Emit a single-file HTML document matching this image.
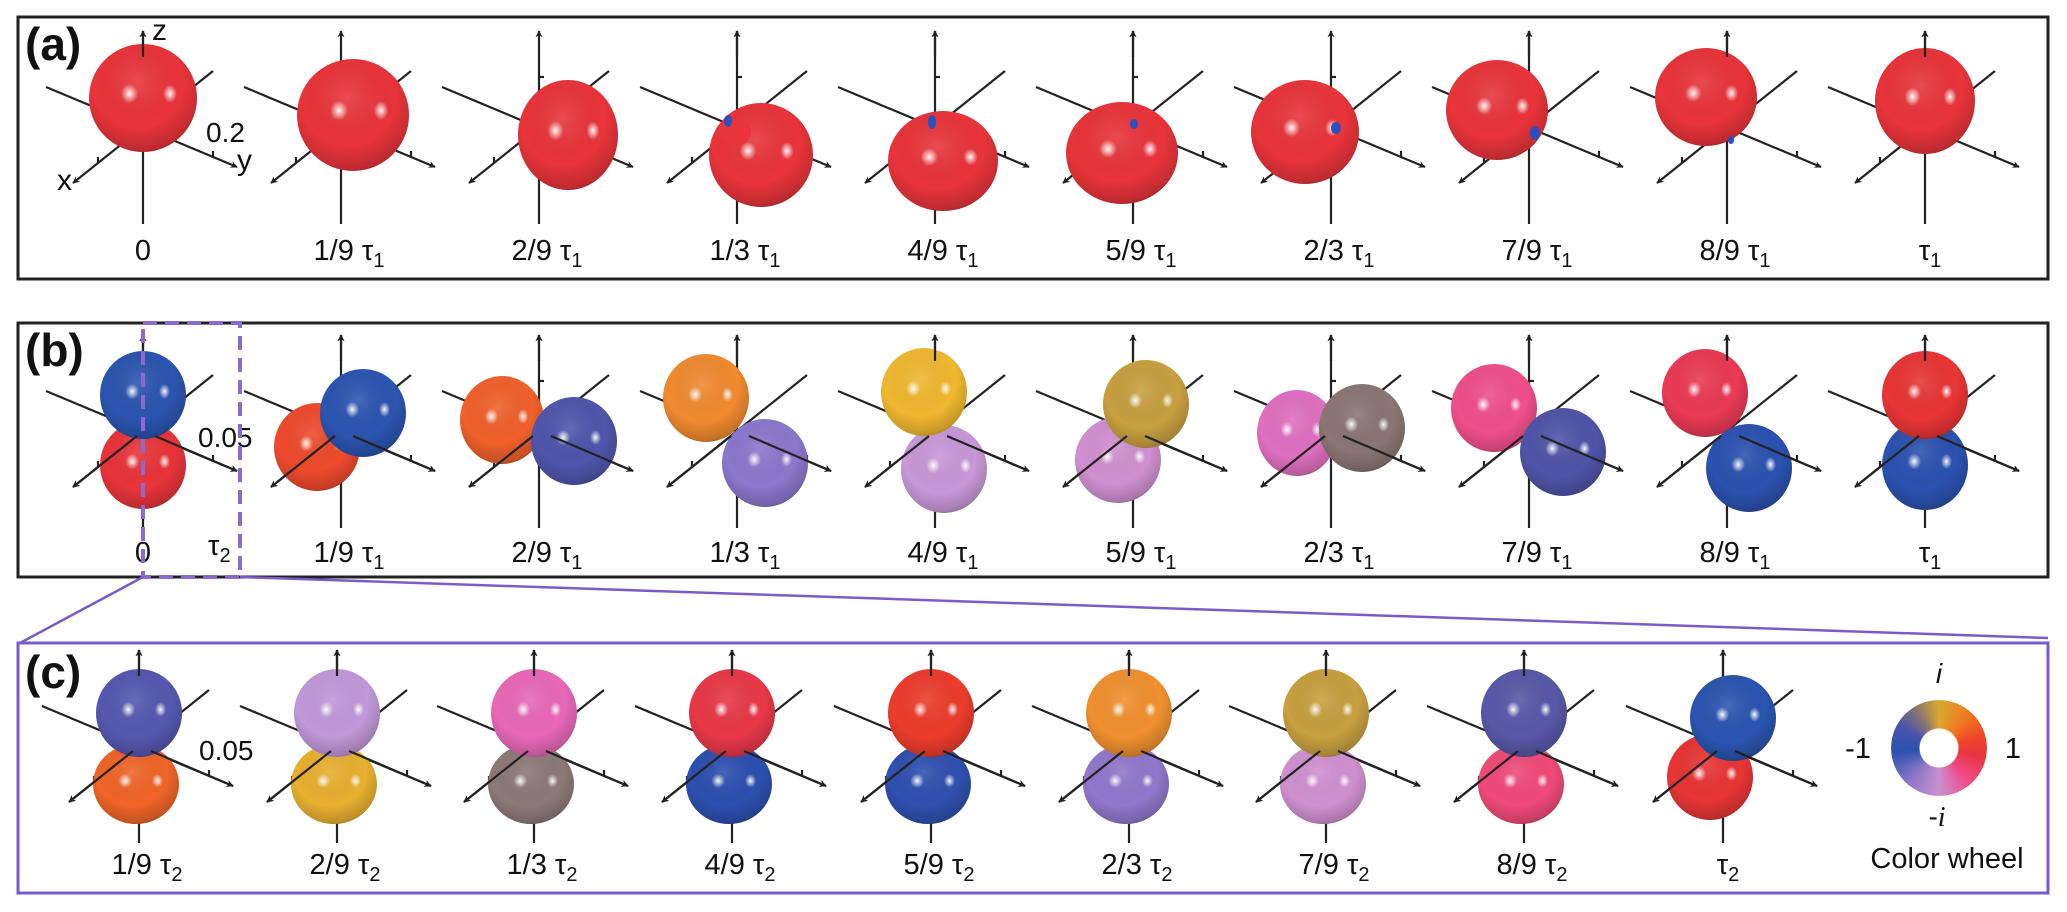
<!DOCTYPE html>
<html><head><meta charset="utf-8"><style>
html,body{margin:0;padding:0;background:#fff}
svg{display:block}
text{font-family:"Liberation Sans",sans-serif;fill:#111}
.lb{font-size:29px;text-anchor:middle}
.pl{font-size:46px;font-weight:bold}
</style></head><body>
<div style="position:relative;width:2067px;height:912px;overflow:hidden">
<svg width="2067" height="912" viewBox="0 0 2067 912" xmlns="http://www.w3.org/2000/svg">
<defs>
<marker id="ar" viewBox="0 0 10 10" refX="9" refY="5" markerWidth="7" markerHeight="7" orient="auto" markerUnits="userSpaceOnUse">
<path d="M0,0 L10,5 L0,10 L3,5 z" fill="#222"/></marker>
<radialGradient id="shade" cx="0.45" cy="0.35" r="0.7">
<stop offset="0" stop-color="#fff" stop-opacity="0.12"/>
<stop offset="0.6" stop-color="#000" stop-opacity="0"/>
<stop offset="0.9" stop-color="#000" stop-opacity="0.18"/>
<stop offset="1" stop-color="#000" stop-opacity="0.4"/>
</radialGradient>
<radialGradient id="hl"><stop offset="0" stop-color="#fff" stop-opacity="0.95"/><stop offset="1" stop-color="#fff" stop-opacity="0"/></radialGradient>
<g id="S"><circle r="1"/><circle r="1" fill="url(#shade)"/>
<ellipse cx="-0.25" cy="-0.08" rx="0.16" ry="0.18" fill="url(#hl)"/>
<ellipse cx="0.5" cy="-0.08" rx="0.13" ry="0.17" fill="url(#hl)"/></g>
<g id="ax" stroke="#222" stroke-width="2.2" fill="none">
<line x1="-97" y1="-40" x2="94" y2="40" marker-end="url(#ar)"/>
<line x1="70" y1="-56" x2="-70" y2="56" marker-end="url(#ar)"/>
<line x1="0" y1="97" x2="0" y2="-96" marker-end="url(#ar)"/>
<line x1="70" y1="30" x2="70" y2="24"/>
<line x1="-45" y1="36" x2="-45" y2="30"/>
<line x1="0" y1="-50" x2="5" y2="-50"/>
</g>
<g id="fr" stroke="#222" stroke-width="2.2" fill="none">
<line x1="12" y1="5" x2="94" y2="40" marker-end="url(#ar)"/>
<line x1="-6" y1="5" x2="-70" y2="56" marker-end="url(#ar)"/>
<line x1="0" y1="-70" x2="0" y2="-96" marker-end="url(#ar)"/>
</g>
<g id="zt" stroke="#222" stroke-width="2.2"><line x1="0" y1="-70" x2="0" y2="-96" marker-end="url(#ar)"/></g>
</defs>

<rect x="18" y="17" width="2030" height="262" fill="none" stroke="#222" stroke-width="3"/>
<rect x="18" y="323" width="2030" height="254" fill="none" stroke="#222" stroke-width="3"/>
<rect x="18" y="643" width="2030" height="250" fill="none" stroke="#7a5cc8" stroke-width="3"/>

<!-- Panel a -->
<use href="#ax" transform="translate(143,127)"/><use href="#ax" transform="translate(341,127)"/>
<use href="#ax" transform="translate(539,127)"/><use href="#ax" transform="translate(737,127)"/>
<use href="#ax" transform="translate(935,127)"/><use href="#ax" transform="translate(1133,127)"/>
<use href="#ax" transform="translate(1331,127)"/><use href="#ax" transform="translate(1529,127)"/>
<use href="#ax" transform="translate(1727,127)"/><use href="#ax" transform="translate(1925,127)"/>
<g fill="#e8343a">
<use href="#S" transform="translate(143,98) scale(54,54)"/>
<use href="#S" transform="translate(353,115) scale(56,56)"/>
<use href="#S" transform="translate(568,135) scale(50,55)"/>
<use href="#S" transform="translate(761,155) scale(52,52)"/>
<ellipse cx="735" cy="132" rx="16" ry="14"/>
<use href="#S" transform="translate(943,161) scale(55,50)"/>
<use href="#S" transform="translate(1122,153) scale(56,51)"/>
<use href="#S" transform="translate(1305,132) scale(54,52)"/>
<use href="#S" transform="translate(1497,110) scale(51,50)"/>
<use href="#S" transform="translate(1706,97) scale(51,49)"/>
<use href="#S" transform="translate(1925,101) scale(50,53)"/>
</g>
<g fill="#2a50c0">
<ellipse cx="728" cy="121" rx="4" ry="6"/><ellipse cx="932" cy="122" rx="4" ry="7"/>
<ellipse cx="1134" cy="124" rx="4" ry="5"/><ellipse cx="1336" cy="128" rx="5" ry="6"/>
<ellipse cx="1535" cy="133" rx="5" ry="7"/><ellipse cx="1731" cy="140" rx="3" ry="4"/>
</g>
<use href="#zt" transform="translate(143,127)"/><use href="#zt" transform="translate(737,127)"/>
<use href="#zt" transform="translate(935,127)"/><use href="#zt" transform="translate(1133,127)"/>
<use href="#zt" transform="translate(1529,127)"/><use href="#zt" transform="translate(1727,127)"/>
<use href="#zt" transform="translate(1925,127)"/>
<text class="pl" x="25" y="60">(a)</text>
<text x="152" y="40" font-size="30">z</text>
<text x="57" y="190" font-size="30">x</text>
<text x="237" y="170" font-size="30">y</text>
<text x="206" y="142" font-size="28">0.2</text>
<g class="lb">
<text x="143" y="260">0</text>
<text x="349" y="260">1/9 τ<tspan font-size="20" dy="7">1</tspan></text>
<text x="547" y="260">2/9 τ<tspan font-size="20" dy="7">1</tspan></text>
<text x="745" y="260">1/3 τ<tspan font-size="20" dy="7">1</tspan></text>
<text x="943" y="260">4/9 τ<tspan font-size="20" dy="7">1</tspan></text>
<text x="1141" y="260">5/9 τ<tspan font-size="20" dy="7">1</tspan></text>
<text x="1339" y="260">2/3 τ<tspan font-size="20" dy="7">1</tspan></text>
<text x="1537" y="260">7/9 τ<tspan font-size="20" dy="7">1</tspan></text>
<text x="1735" y="260">8/9 τ<tspan font-size="20" dy="7">1</tspan></text>
<text x="1930" y="260">τ<tspan font-size="20" dy="7">1</tspan></text>
</g>

<!-- Panel b -->
<use href="#ax" transform="translate(143,431)"/><use href="#ax" transform="translate(341,431)"/>
<use href="#ax" transform="translate(539,431)"/><use href="#ax" transform="translate(737,431)"/>
<use href="#ax" transform="translate(935,431)"/><use href="#ax" transform="translate(1133,431)"/>
<use href="#ax" transform="translate(1331,431)"/><use href="#ax" transform="translate(1529,431)"/>
<use href="#ax" transform="translate(1727,431)"/><use href="#ax" transform="translate(1925,431)"/>
<use href="#S" fill="#e8343a" transform="translate(143,465) scale(43,44)"/>
<use href="#S" fill="#2b55b0" transform="translate(143,395) scale(43,44)"/>
<use href="#S" fill="#ee4a2c" transform="translate(317,447) scale(43,44)"/>
<use href="#S" fill="#2b55b0" transform="translate(363,413) scale(43,44)"/>
<use href="#S" fill="#f0602a" transform="translate(502,420) scale(42,44)"/>
<use href="#S" fill="#4f56ac" transform="translate(574,441) scale(43,44)"/>
<use href="#S" fill="#f08a30" transform="translate(706,398) scale(43,44)"/>
<use href="#S" fill="#8a78cc" transform="translate(765,463) scale(43,44)"/>
<use href="#S" fill="#c898d8" transform="translate(944,469) scale(43,44)"/>
<use href="#S" fill="#f0b830" transform="translate(924,392) scale(43,44)"/>
<use href="#S" fill="#d090d0" transform="translate(1118,460) scale(43,43)"/>
<use href="#S" fill="#c8a040" transform="translate(1146,404) scale(43,44)"/>
<use href="#S" fill="#e070c0" transform="translate(1297,433) scale(40,43)"/>
<use href="#S" fill="#8a7672" transform="translate(1362,428) scale(43,44)"/>
<use href="#S" fill="#f0508a" transform="translate(1494,408) scale(43,44)"/>
<use href="#S" fill="#5054a8" transform="translate(1563,452) scale(43,44)"/>
<use href="#S" fill="#ea3a55" transform="translate(1705,393) scale(43,44)"/>
<use href="#S" fill="#2b52b0" transform="translate(1749,468) scale(43,44)"/>
<use href="#S" fill="#2b52b0" transform="translate(1925,465) scale(43,45)"/>
<use href="#S" fill="#e83535" transform="translate(1925,395) scale(43,44)"/>
<use href="#fr" transform="translate(143,431)"/><use href="#fr" transform="translate(341,431)"/>
<use href="#fr" transform="translate(539,431)"/><use href="#fr" transform="translate(737,431)"/>
<use href="#fr" transform="translate(935,431)"/><use href="#fr" transform="translate(1133,431)"/>
<use href="#fr" transform="translate(1331,431)"/><use href="#fr" transform="translate(1529,431)"/>
<use href="#fr" transform="translate(1727,431)"/><use href="#fr" transform="translate(1925,431)"/>
<text class="pl" x="25" y="366">(b)</text>
<text x="198" y="447" font-size="28">0.05</text>
<text x="208" y="555" font-size="29">τ<tspan font-size="20" dy="7">2</tspan></text>
<g class="lb">
<text x="143" y="562">0</text>
<text x="349" y="562">1/9 τ<tspan font-size="20" dy="7">1</tspan></text>
<text x="547" y="562">2/9 τ<tspan font-size="20" dy="7">1</tspan></text>
<text x="745" y="562">1/3 τ<tspan font-size="20" dy="7">1</tspan></text>
<text x="943" y="562">4/9 τ<tspan font-size="20" dy="7">1</tspan></text>
<text x="1141" y="562">5/9 τ<tspan font-size="20" dy="7">1</tspan></text>
<text x="1339" y="562">2/3 τ<tspan font-size="20" dy="7">1</tspan></text>
<text x="1537" y="562">7/9 τ<tspan font-size="20" dy="7">1</tspan></text>
<text x="1735" y="562">8/9 τ<tspan font-size="20" dy="7">1</tspan></text>
<text x="1930" y="562">τ<tspan font-size="20" dy="7">1</tspan></text>
</g>

<rect x="143" y="323" width="97" height="254" fill="none" stroke="#8a6ad0" stroke-width="4" stroke-dasharray="14 8"/>
<line x1="143" y1="577" x2="20" y2="643" stroke="#7a5cc8" stroke-width="2.5"/>
<line x1="240" y1="577" x2="2048" y2="638" stroke="#7a5cc8" stroke-width="2.5"/>

<!-- Panel c -->
<use href="#ax" transform="translate(139,746)"/><use href="#ax" transform="translate(337,746)"/>
<use href="#ax" transform="translate(534,746)"/><use href="#ax" transform="translate(732,746)"/>
<use href="#ax" transform="translate(931,746)"/><use href="#ax" transform="translate(1129,746)"/>
<use href="#ax" transform="translate(1326,746)"/><use href="#ax" transform="translate(1524,746)"/>
<use href="#ax" transform="translate(1723,746)"/>
<use href="#S" fill="#f06428" transform="translate(136,784) scale(43,40)"/>
<use href="#S" fill="#5658b0" transform="translate(139,713) scale(43,44)"/>
<use href="#S" fill="#e8b030" transform="translate(334,784) scale(43,40)"/>
<use href="#S" fill="#c098d8" transform="translate(337,713) scale(43,44)"/>
<use href="#S" fill="#8c7a78" transform="translate(531,784) scale(43,40)"/>
<use href="#S" fill="#e868b8" transform="translate(534,713) scale(43,44)"/>
<use href="#S" fill="#2c50b0" transform="translate(729,784) scale(43,40)"/>
<use href="#S" fill="#e83848" transform="translate(732,713) scale(43,44)"/>
<use href="#S" fill="#3050b0" transform="translate(928,784) scale(43,40)"/>
<use href="#S" fill="#ec3c2c" transform="translate(931,713) scale(43,44)"/>
<use href="#S" fill="#9078cc" transform="translate(1126,784) scale(43,40)"/>
<use href="#S" fill="#f09030" transform="translate(1129,713) scale(43,44)"/>
<use href="#S" fill="#d090d0" transform="translate(1323,784) scale(43,40)"/>
<use href="#S" fill="#c8a040" transform="translate(1326,713) scale(43,44)"/>
<use href="#S" fill="#f04a78" transform="translate(1521,784) scale(43,40)"/>
<use href="#S" fill="#5858a8" transform="translate(1524,713) scale(43,44)"/>
<use href="#S" fill="#e83535" transform="translate(1710,777) scale(43,43)"/>
<use href="#S" fill="#2a55b0" transform="translate(1733,718) scale(43,43)"/>
<use href="#fr" transform="translate(139,746)"/><use href="#fr" transform="translate(337,746)"/>
<use href="#fr" transform="translate(534,746)"/><use href="#fr" transform="translate(732,746)"/>
<use href="#fr" transform="translate(931,746)"/><use href="#fr" transform="translate(1129,746)"/>
<use href="#fr" transform="translate(1326,746)"/><use href="#fr" transform="translate(1524,746)"/>
<use href="#fr" transform="translate(1723,746)"/>
<text class="pl" x="25" y="688">(c)</text>
<text x="199" y="760" font-size="28">0.05</text>
<g class="lb">
<text x="147" y="874">1/9 τ<tspan font-size="20" dy="7">2</tspan></text>
<text x="345" y="874">2/9 τ<tspan font-size="20" dy="7">2</tspan></text>
<text x="542" y="874">1/3 τ<tspan font-size="20" dy="7">2</tspan></text>
<text x="740" y="874">4/9 τ<tspan font-size="20" dy="7">2</tspan></text>
<text x="939" y="874">5/9 τ<tspan font-size="20" dy="7">2</tspan></text>
<text x="1137" y="874">2/3 τ<tspan font-size="20" dy="7">2</tspan></text>
<text x="1334" y="874">7/9 τ<tspan font-size="20" dy="7">2</tspan></text>
<text x="1532" y="874">8/9 τ<tspan font-size="20" dy="7">2</tspan></text>
<text x="1728" y="874">τ<tspan font-size="20" dy="7">2</tspan></text>
</g>
<text x="1939" y="683" font-size="28" font-style="italic" font-family="Liberation Serif, serif" text-anchor="middle">i</text>
<text x="1858" y="758" font-size="29" text-anchor="middle">-1</text>
<text x="2013" y="758" font-size="29" text-anchor="middle">1</text>
<text x="1937" y="826" font-size="28" text-anchor="middle"><tspan>-</tspan><tspan font-style="italic" font-family="Liberation Serif, serif">i</tspan></text>
<text x="1947" y="868" font-size="29" text-anchor="middle">Color wheel</text>
</svg>
<div style="position:absolute;left:1891px;top:700px;width:96px;height:96px;border-radius:50%;
background:conic-gradient(from 0deg,#d8a830 0deg,#f07a20 40deg,#f04428 75deg,#e83440 100deg,#f04c8a 140deg,#c890d0 180deg,#9078c8 220deg,#2a52b0 265deg,#4a54ac 300deg,#8a7670 330deg,#d8a830 360deg);
-webkit-mask:radial-gradient(circle,transparent 19px,#000 20px);mask:radial-gradient(circle,transparent 19px,#000 20px)"></div>
</div>
</body></html>
